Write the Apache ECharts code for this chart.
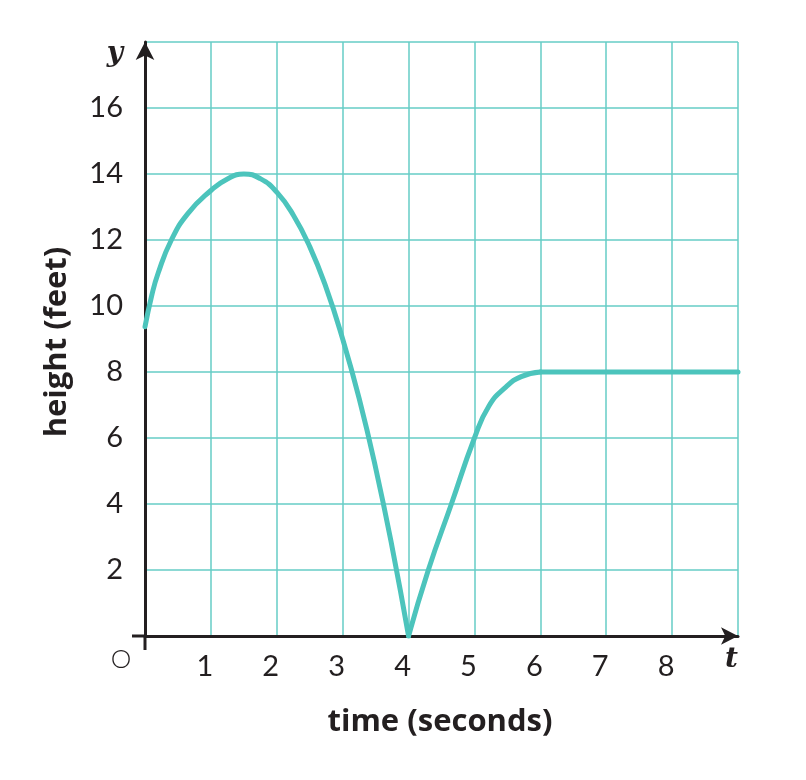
<!DOCTYPE html>
<html>
<head>
<meta charset="utf-8">
<script src="https://cdn.jsdelivr.net/npm/echarts@6/dist/echarts.min.js"></script>
<style>
html,body{margin:0;padding:0;background:#fff;}
#chart{width:806px;height:780px;}
</style>
</head>
<body>
<div id="chart"></div>
<script>
// Data (time in seconds, height in feet)
const riseFallTime   = [0, 0.1, 0.2, 0.4, 0.65, 1, 1.25, 1.5, 1.75, 2, 2.25, 2.5, 2.75, 3, 3.25, 3.5, 3.75, 4];
const riseFallHeight = [9.37, 10.3, 11.0, 12.0, 12.8, 13.5, 13.85, 14, 13.86, 13.45, 12.76, 11.8, 10.55, 9.0, 7.2, 5.1, 2.7, 0];
const bounceTime     = [4, 4.3, 4.65, 5, 5.22, 5.48, 5.71, 6];
const bounceHeight   = [0, 2, 4, 6, 6.97, 7.55, 7.86, 8];
const restTime       = [6, 9];
const restHeight     = [8, 8];
const xTicks = [1, 2, 3, 4, 5, 6, 7, 8];
const yTicks = [2, 4, 6, 8, 10, 12, 14, 16];

const TEAL = '#4cc4bc';
const GRIDC = '#66cdc6';
const INK = '#231f20';
const pairs = (xs, ys) => xs.map((x, i) => [x, ys[i]]);

const chart = echarts.init(document.getElementById('chart'));
const lineStyle = { color: TEAL, width: 5, cap: 'round', join: 'round' };
const option = {
  backgroundColor: '#fff',
  animation: false,
  grid: { left: 145, top: 42, width: 593, height: 594 },
  xAxis: {
    type: 'value', min: 0, max: 9, interval: 1,
    name: 't', nameLocation: 'end', nameGap: 0,
    nameTextStyle: { fontFamily: 'DejaVu Serif', fontStyle: 'italic', fontWeight: 'bold', fontSize: 28, color: INK, align: 'right', verticalAlign: 'top', padding: [10, 0, 0, 0] },
    axisLine: { onZero: false, lineStyle: { color: INK, width: 3 }, symbol: ['none', 'arrow'], symbolSize: [13, 17] },
    axisTick: { show: false },
    splitLine: { show: true, lineStyle: { color: GRIDC, width: 1.5 } },
    axisLabel: {
      margin: 16, fontFamily: 'Lato', fontSize: 29, color: INK, padding: [0, 12, 0, 0],
      formatter: v => xTicks.indexOf(v) >= 0 ? String(v) : ''
    }
  },
  yAxis: {
    type: 'value', min: 0, max: 18, interval: 2,
    name: 'y', nameLocation: 'end', nameGap: -12,
    nameTextStyle: { fontFamily: 'DejaVu Serif', fontStyle: 'italic', fontWeight: 'bold', fontSize: 28, color: INK, align: 'right', verticalAlign: 'middle', padding: [0, 22, 0, 0] },
    axisLine: { onZero: false, lineStyle: { color: INK, width: 3 }, symbol: ['none', 'arrow'], symbolSize: [14, 18] },
    axisTick: { show: false },
    splitLine: { show: true, lineStyle: { color: GRIDC, width: 1.5 } },
    axisLabel: {
      margin: 22, fontFamily: 'Lato', fontSize: 29, color: INK,
      formatter: v => yTicks.indexOf(v) >= 0 ? String(v) : ''
    }
  },
  series: [
    { type: 'line', data: pairs(riseFallTime, riseFallHeight), smooth: 0.5, showSymbol: false, lineStyle, z: 3 },
    { type: 'line', data: pairs(bounceTime, bounceHeight), smooth: 0.5, showSymbol: false, lineStyle, z: 3 },
    { type: 'line', data: pairs(restTime, restHeight), smooth: false, showSymbol: false, lineStyle, z: 3 }
  ]
};
chart.setOption(option);

const o = chart.convertToPixel({ gridIndex: 0 }, [0, 0]);
chart.setOption({
  graphic: [
    { type: 'line', shape: { x1: o[0] - 13, y1: o[1], x2: o[0], y2: o[1] }, style: { stroke: INK, lineWidth: 3 }, z: 10 },
    { type: 'line', shape: { x1: o[0], y1: o[1], x2: o[0], y2: o[1] + 14 }, style: { stroke: INK, lineWidth: 3 }, z: 10 },
    { type: 'text', x: o[0] - 24, y: o[1] + 24, style: { text: 'O', font: '300 26px Lato', fill: INK, align: 'center', verticalAlign: 'middle' } },
    { type: 'text', x: o[0] + 295, y: 722, style: { text: 'time (seconds)', font: 'bold 31px "Open Sans"', fill: INK, align: 'center', verticalAlign: 'middle' } },
    { type: 'text', x: 57, y: 342, rotation: Math.PI / 2, style: { text: 'height (feet)', font: 'bold 31px "Open Sans"', fill: INK, align: 'center', verticalAlign: 'middle' } }
  ]
});
</script>
</body>
</html>
